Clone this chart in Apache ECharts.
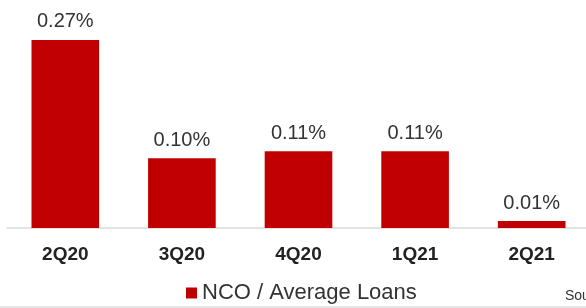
<!DOCTYPE html>
<html>
<head>
<meta charset="utf-8">
<script src="https://cdn.jsdelivr.net/npm/echarts@6/dist/echarts.min.js"></script>
<style>
  html, body { margin: 0; padding: 0; background: #fff; }
  #chart { width: 586px; height: 308px; }
</style>
</head>
<body>
<div id="chart"></div>
<script>
var categories = ['2Q20', '3Q20', '4Q20', '1Q21', '2Q21'];
var ncoValues = [0.27, 0.10, 0.11, 0.11, 0.01];
var seriesName = 'NCO / Average Loans';

var myChart = echarts.init(document.getElementById('chart'));
var option = {
    animation: false,
    textStyle: { fontFamily: 'Liberation Sans, Arial, sans-serif' },
    grid: { left: 7, width: 583, top: 19, bottom: 80, outerBoundsMode: 'none', containLabel: false },
    legend: {
        data: [seriesName],
        top: 277,
        left: 181,
        icon: 'rect',
        itemWidth: 11,
        itemHeight: 11,
        itemGap: 4,
        textStyle: { fontSize: 22, color: '#333', padding: [2, 0, 0, 0] }
    },
    xAxis: {
        type: 'category',
        data: categories,
        axisLine: { lineStyle: { color: '#d9d9d9', width: 1.5 } },
        axisTick: { show: false },
        axisLabel: { fontSize: 19, fontWeight: 'bold', color: '#222', margin: 17 }
    },
    yAxis: {
        type: 'value',
        min: 0,
        max: 0.3,
        show: false,
        splitLine: { show: false }
    },
    series: [{
        name: seriesName,
        type: 'bar',
        data: ncoValues,
        barWidth: '58%',
        itemStyle: { color: '#c00000' },
        label: {
            show: true,
            position: 'top',
            distance: 8,
            fontSize: 20,
            color: '#333',
            formatter: function (p) { return p.value.toFixed(2) + '%'; }
        }
    }],
    graphic: [{
        type: 'text',
        left: 565,
        top: 289,
        style: { text: 'Source', fontSize: 14, fill: '#333', fontFamily: 'Liberation Sans, Arial' }
    }, {
        type: 'rect',
        shape: { x: 0, y: 306, width: 586, height: 2 },
        style: { fill: '#e6e6e6' }
    }]
};
myChart.setOption(option);
</script>
</body>
</html>
